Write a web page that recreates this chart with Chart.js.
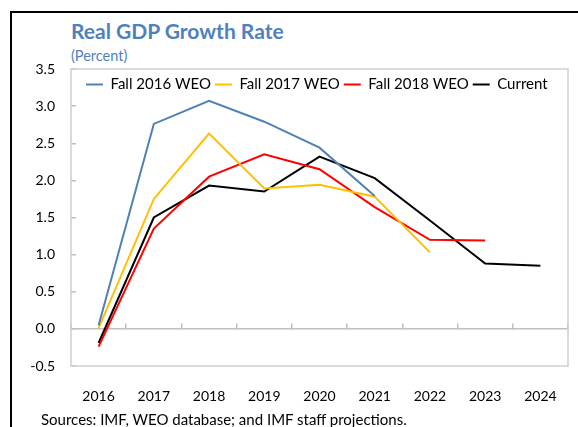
<!DOCTYPE html>
<html>
<head>
<meta charset="utf-8">
<script src="https://cdn.jsdelivr.net/npm/chart.js@4"></script>
<style>
  body { margin: 0; background: #fff; font-family: Lato, sans-serif; }
  #wrap { position: relative; width: 578px; height: 427px; overflow: hidden; }
  #frame { position: absolute; left: 10px; top: 11px; width: 600px; height: 450px;
           border-left: 2px solid #000; border-top: 2px solid #000; }
  #title { position: absolute; left: 71px; top: 18px; font-size: 21px; font-weight: bold; color: #4f81bd; }
  #subtitle { position: absolute; left: 71px; top: 47px; font-size: 14.5px; color: #4f81bd; }
  #source { position: absolute; left: 41px; top: 410px; font-size: 15px; color: #000; }
  canvas { position: absolute; left: 0; top: 0; }
</style>
</head>
<body>
<div id="wrap">
  <div id="frame"></div>
  <div id="title">Real GDP Growth Rate</div>
  <div id="subtitle">(Percent)</div>
  <canvas id="lineChart" width="578" height="427"></canvas>
  <div id="source">Sources: IMF, WEO database; and IMF staff projections.</div>
</div>
<script>
const years = ['2016', '2017', '2018', '2019', '2020', '2021', '2022', '2023', '2024'];
const fall2016 = [0.05, 2.76, 3.07, 2.79, 2.44, 1.79, null, null, null];
const fall2017 = [0.01, 1.75, 2.63, 1.89, 1.94, 1.78, 1.03, null, null];
const fall2018 = [-0.24, 1.35, 2.05, 2.35, 2.15, 1.64, 1.20, 1.19, null];
const current = [-0.19, 1.50, 1.93, 1.85, 2.32, 2.03, 1.46, 0.88, 0.85];

// legend sits inside the plot, so it takes no room in the layout
const legendInside = {
    id: 'legendInside',
    beforeInit(chart) {
        const legend = chart.legend;
        const fit = legend.fit;
        legend.fit = function () {
            fit.bind(legend)();
            this.height = 0;
        };
    },
    afterLayout(chart) {
        const a = chart.chartArea;
        const l = chart.legend;
        l.left = a.left + 11;
        l.right = a.right;
        l.top = a.top + 4;
        l.bottom = l.top + 30;
        l.height = 30;
        l.width = l.right - l.left;
    }
};

// light grey box round the plot area
const plotBox = {
    id: 'plotBox',
    beforeDatasetsDraw(chart) {
        const a = chart.chartArea;
        const ctx = chart.ctx;
        ctx.save();
        ctx.strokeStyle = '#d0d0d0';
        ctx.lineWidth = 1.5;
        ctx.strokeRect(a.left, a.top, a.right - a.left, a.bottom - a.top);
        ctx.restore();
    }
};

Chart.defaults.font.family = 'Lato, sans-serif';
Chart.defaults.font.size = 14;
Chart.defaults.color = '#000';

function serie(label, data, color) {
    return {
        label: label,
        data: data,
        borderColor: color,
        backgroundColor: color,
        borderWidth: 2,
        pointRadius: 0,
        tension: 0,
        spanGaps: false
    };
}

new Chart(document.getElementById('lineChart'), {
    type: 'line',
    data: {
        labels: years,
        datasets: [
            serie('Fall 2016 WEO', fall2016, '#4f81b4'),
            serie('Fall 2017 WEO', fall2017, '#ffc000'),
            serie('Fall 2018 WEO', fall2018, '#ff0000'),
            serie('Current', current, '#000000')
        ]
    },
    options: {
        responsive: false,
        animation: false,
        layout: { padding: { top: 69, right: 10, left: 0, bottom: 0 } },
        plugins: {
            title: { display: false },
            tooltip: { enabled: false },
            legend: {
                display: true,
                align: 'start',
                labels: {
                    usePointStyle: true,
                    pointStyle: 'line',
                    pointStyleWidth: 17,
                    padding: 4,
                    color: '#000',
                    font: { size: 15 }
                }
            }
        },
        scales: {
            x: {
                offset: true,
                grid: { display: false },
                border: { display: false },
                ticks: { padding: 14, maxRotation: 0 },
                afterFit(scale) { scale.height = 61; }
            },
            x2: {
                type: 'category',
                labels: years,
                position: { y: 0 },
                offset: true,
                grid: { offset: true, drawOnChartArea: false, drawTicks: true, tickLength: -6, color: '#bfbfbf', lineWidth: 1.5 },
                border: { display: true, color: '#bfbfbf', width: 1.5 },
                ticks: { display: false }
            },
            y: {
                min: -0.5,
                max: 3.5,
                grid: { drawOnChartArea: false, drawTicks: true, tickLength: -5, color: '#bfbfbf', lineWidth: 1.5 },
                border: { display: false },
                ticks: {
                    stepSize: 0.5,
                    padding: 21,
                    callback: v => v.toFixed(1)
                },
                afterFit(scale) { scale.width = 71; }
            }
        }
    },
    plugins: [legendInside, plotBox]
});
</script>
</body>
</html>
